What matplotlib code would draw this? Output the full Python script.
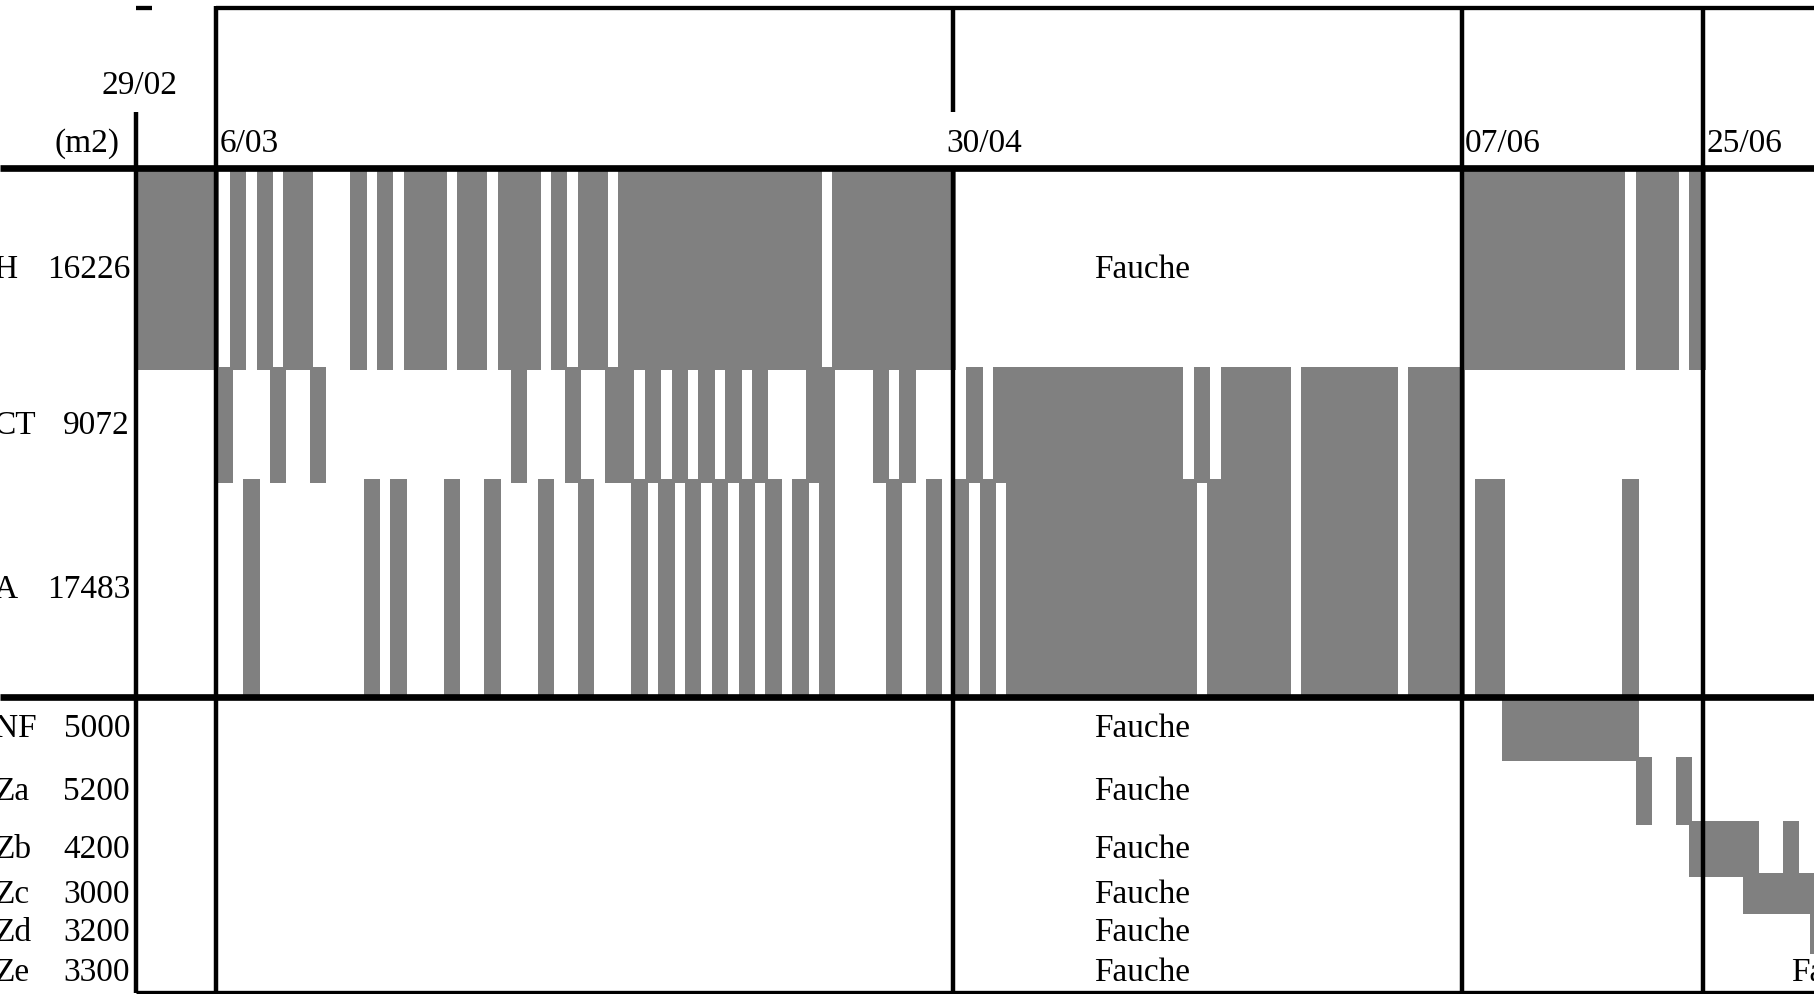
import matplotlib
matplotlib.use("Agg")
import matplotlib.pyplot as plt
import numpy as np

plt.rcParams['font.family'] = ['Liberation Serif', 'DejaVu Serif']

# day 0 = 29/02
date_labels = ["29/02", "6/03", "30/04", "07/06", "25/06"]
date_days = [0, 6, 61, 99, 117]

# parcels and their area (m2), the row height follows the area
parcels = ["H", "CT", "A", "NF", "Za", "Zb", "Zc", "Zd", "Ze"]
areas = [16226, 9072, 17483, 5000, 5200, 4200, 3000, 3200, 3300]

# grazing periods per parcel: (first day, last day)
graze_H = [(0, 6), (7, 8), (9, 10), (11, 13), (16, 17), (18, 19), (20, 23), (24, 26),
           (27, 30), (31, 32), (33, 35), (36, 51), (52, 61), (99, 111), (112, 115), (116, 117)]
graze_CT = [(6, 7), (10, 11), (13, 14), (28, 29), (32, 33), (35, 37), (38, 39), (40, 41),
            (42, 43), (44, 45), (46, 47), (50, 52), (55, 56), (57, 58), (62, 63), (64, 78),
            (79, 80), (81, 86), (87, 94), (95, 99)]
graze_A = [(8, 9), (17, 18), (19, 20), (23, 24), (26, 27), (30, 31), (33, 34), (37, 38),
           (39, 40), (41, 42), (43, 44), (45, 46), (47, 48), (49, 50), (51, 52), (56, 57),
           (59, 60), (61, 62), (63, 64), (65, 79), (80, 86), (87, 94), (95, 99), (100, 102),
           (111, 112)]
graze_NF = [(102, 112)]
graze_Za = [(112, 113), (115, 116)]
graze_Zb = [(116, 121), (123, 124)]
graze_Zc = [(120, 126)]
graze_Zd = [(125, 126)]
graze_Ze = []
grazing = [graze_H, graze_CT, graze_A, graze_NF, graze_Za, graze_Zb, graze_Zc, graze_Zd, graze_Ze]

# mowing (fauche) labels: parcel, day of the label
fauche_rows = ["H", "NF", "Za", "Zb", "Zc", "Zd", "Ze"]
fauche_day = 75.1

n_upper = 3
tops = np.concatenate([[0], np.cumsum(areas)[:-1]])
total = sum(areas)
split = sum(areas[:n_upper])

head = 12940   # header band above the rows, in m2 units
fs = 24

fig = plt.figure(figsize=(18.14, 9.95), dpi=100)
ax = fig.add_axes([0, 0, 1, 1])
ax.set_xlim(-10.16, 125.31)
ax.set_ylim(66801, -13668)
ax.axis('off')

# grazing bars
pad = 150
for top, area, periods in zip(tops, areas, grazing):
    if periods:
        ax.broken_barh([(s, e - s + 0.22) for s, e in periods], (top - pad, area + 2 * pad),
                       facecolor='#808080', edgecolor='none', zorder=1)

# row labels
for name, top, area in zip(parcels, tops, areas):
    yc = top + area / 2
    ax.text(-10.6, yc, name, ha='left', va='center', fontsize=fs)
    ax.text(-0.45, yc, str(area), ha='right', va='center', fontsize=fs)

for name in fauche_rows:
    i = parcels.index(name)
    ax.text(fauche_day, tops[i] + areas[i] / 2, "Fauche", ha='center', va='center', fontsize=fs)
ax.text(123.6, tops[-1] + areas[-1] / 2, "Fauche", ha='left', va='center', fontsize=fs)

# header
ax.text(-1.27, -2022, "(m2)", ha='right', va='center', fontsize=fs)
ax.text(3.1, -6712, date_labels[0], ha='right', va='center', fontsize=fs)
for lab, d in zip(date_labels[1:], date_days[1:]):
    off = -0.5 if lab == "30/04" else 0.25
    ax.text(d + off, -2022, lab, ha='left', va='center', fontsize=fs)

# frame lines
kw = dict(color='black', solid_capstyle='butt', zorder=3)
xmax = 125.31
ax.plot([6, xmax], [-head, -head], lw=3.1, **kw)
ax.plot([0, 1.2], [-head, -head], lw=3.1, **kw)
ax.plot([-10.16, xmax], [0, 0], lw=4.8, **kw)
ax.plot([-10.16, xmax], [split, split], lw=4.8, **kw)
ax.plot([0, xmax], [total - 40, total - 40], lw=2.4, **kw)

ax.plot([0, 0], [-4530, total], lw=3.2, **kw)
for d in [6, 99, 117]:
    ax.plot([d, d], [-head - 170, total], lw=3.2, **kw)
ax.plot([61, 61], [-head - 170, -4530], lw=3.2, **kw)
ax.plot([61, 61], [0, total], lw=3.2, **kw)

plt.savefig("out.png", dpi=100)
